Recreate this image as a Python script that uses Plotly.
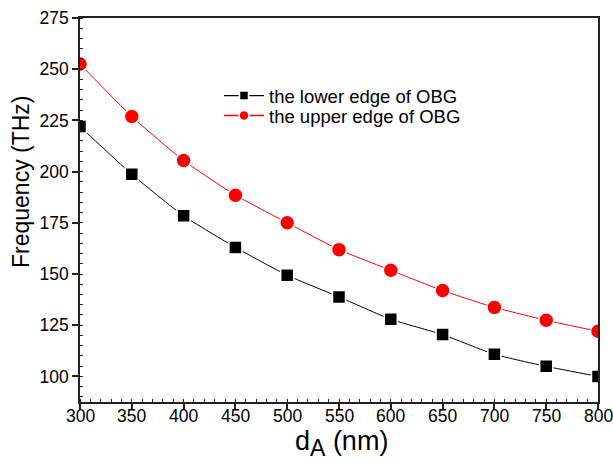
import plotly.graph_objects as go

d_A = [300, 350, 400, 450, 500, 550, 600, 650, 700, 750, 800]
lower_edge = [222, 198.7, 178.4, 163, 149.4, 138.8, 127.9, 120.4, 110.8, 104.9, 100]
upper_edge = [252.5, 226.9, 205.4, 188.5, 175, 161.9, 151.8, 141.9, 133.7, 127.4, 122]
x_ticks = [300, 350, 400, 450, 500, 550, 600, 650, 700, 750, 800]
y_ticks = [100, 125, 150, 175, 200, 225, 250, 275]
series_names = ["the lower edge of OBG", "the upper edge of OBG"]

FONT = "Liberation Sans, Arial, sans-serif"

fig = go.Figure()
fig.add_trace(go.Scatter(
    x=d_A, y=lower_edge, mode="lines+markers", showlegend=False,
    line=dict(color="black", width=1, shape="spline", smoothing=0.5),
    marker=dict(symbol="square", size=13, color="black", line=dict(color="white", width=1.5)),
))
fig.add_trace(go.Scatter(
    x=d_A, y=upper_edge, mode="lines+markers", showlegend=False,
    line=dict(color="red", width=1, shape="spline", smoothing=0.5),
    marker=dict(symbol="circle", size=15, color="red", line=dict(color="white", width=1.5)),
))
# legend entries (smaller symbols, like the reference)
fig.add_trace(go.Scatter(
    x=[None], y=[None], mode="lines+markers", name=series_names[0], legend="legend",
    line=dict(color="black", width=1.2),
    marker=dict(symbol="square", size=9, color="black", line=dict(color="white", width=1.5)),
))
fig.add_trace(go.Scatter(
    x=[None], y=[None], mode="lines+markers", name=series_names[1], legend="legend2",
    line=dict(color="red", width=1.6),
    marker=dict(symbol="circle", size=10, color="red", line=dict(color="white", width=1.5)),
))

axis_common = dict(
    showline=True, linecolor="#222", linewidth=1.5, mirror=True,
    showgrid=False, zeroline=False, automargin=False,
    ticks="outside", ticklen=6, tickwidth=1.5, tickcolor="#222",
    tickfont=dict(family=FONT, size=17.5, color="black"),
)

fig.update_xaxes(
    range=[300, 800], tickvals=x_ticks, showticklabels=False,
    minor=dict(ticks="inside", ticklen=3, tickwidth=1.2, tickcolor="#222", dtick=10, tick0=300),
    **axis_common,
)
fig.update_yaxes(
    range=[87.5, 275], tickvals=y_ticks,
    minor=dict(ticks="inside", ticklen=3, tickwidth=1.2, tickcolor="#222", dtick=5, tick0=100),
    **axis_common,
)

legend_common = dict(
    xanchor="left", yanchor="middle", bgcolor="rgba(0,0,0,0)",
    font=dict(family=FONT, size=18.5, color="black"), itemwidth=40,
)

annotations = [
    dict(text=str(v), x=v, xref="x", y=(402 - 416) / 384, yref="paper",
         xanchor="center", yanchor="middle", showarrow=False,
         font=dict(family=FONT, size=17.5, color="black"))
    for v in x_ticks
]
annotations += [
    dict(text="Frequency (THz)", textangle=-90, xref="paper", yref="paper",
         x=(21 - 80) / 518, y=(402 - 182) / 384, xanchor="center", yanchor="middle",
         showarrow=False, font=dict(family=FONT, size=23, color="black")),
    dict(text="d<sub><span style='font-size:23px'>A</span></sub> (nm)", xref="paper", yref="paper",
         x=(341 - 80) / 518, y=(402 - 443) / 384, xanchor="center", yanchor="middle",
         showarrow=False, font=dict(family=FONT, size=27, color="black")),
]

fig.update_layout(
    width=613, height=463,
    margin=dict(l=80, r=15, t=18, b=61),
    paper_bgcolor="white", plot_bgcolor="white",
    font=dict(family=FONT, color="black"),
    legend=dict(x=(219 - 80) / 518, y=(402 - 96) / 384, **legend_common),
    legend2=dict(x=(219 - 80) / 518, y=(402 - 116) / 384, **legend_common),
    annotations=annotations,
)

fig.write_html("out.html")
